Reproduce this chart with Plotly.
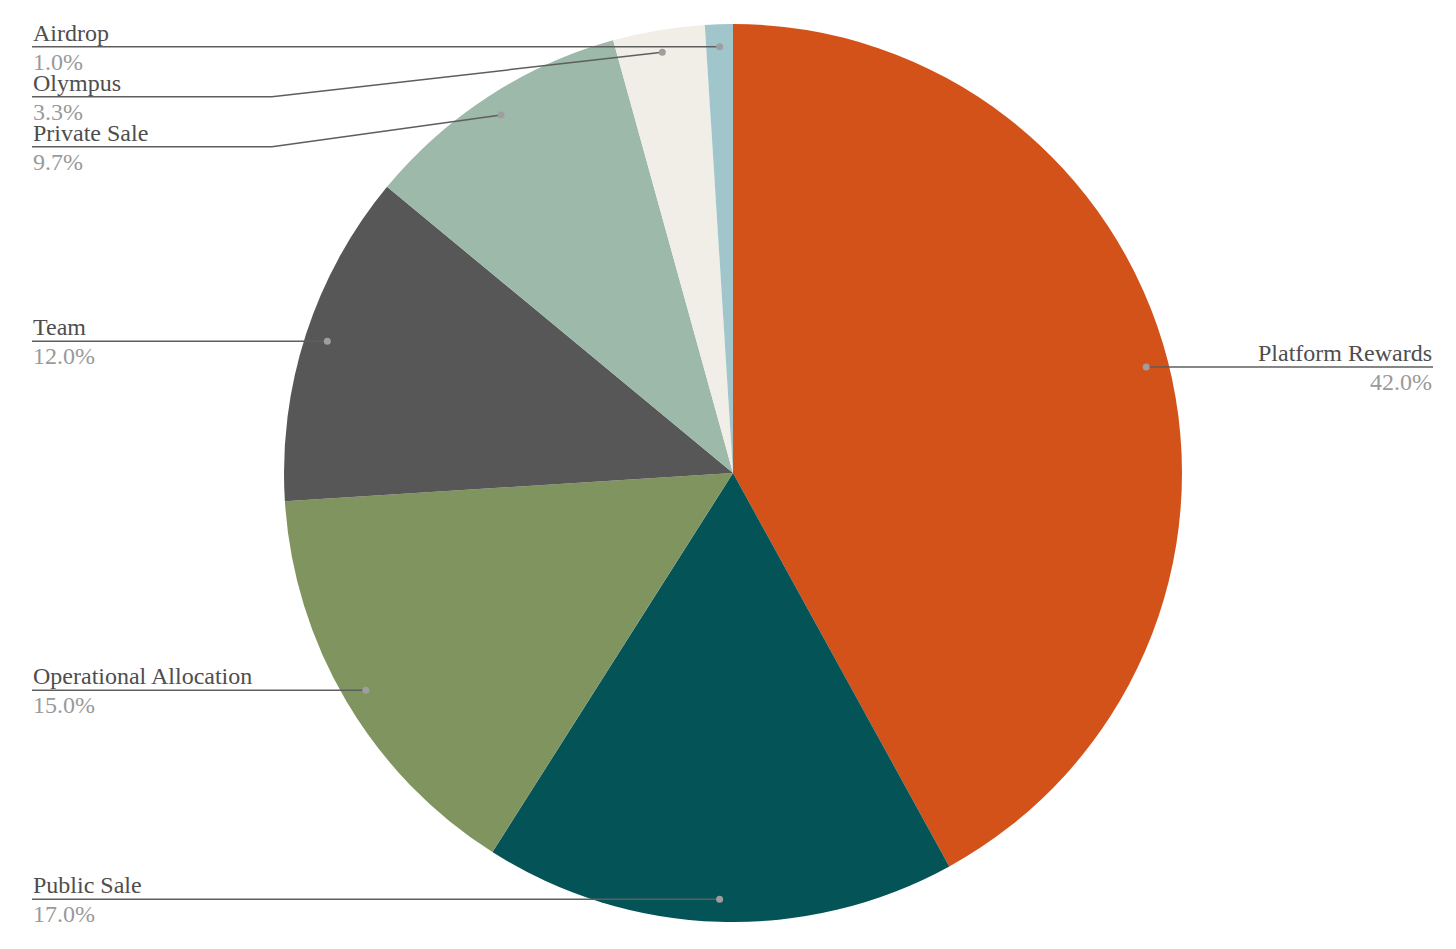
import math
import plotly.graph_objects as go

labels = ["Platform Rewards", "Public Sale", "Operational Allocation", "Team",
          "Private Sale", "Olympus", "Airdrop"]
values = [42.0, 17.0, 15.0, 12.0, 9.7, 3.3, 1.0]
colors = ["#D35219", "#045356", "#80945F", "#575757", "#9CB9A9", "#F1EDE7", "#A0C6CB"]

W, H = 1456, 949
OFF = 8  # page body margin
CX, CY, R = 733 - OFF, 473 - OFF, 449
FONT = "Liberation Serif, Georgia, serif"
FS = 24
LEFT_X, RIGHT_X = 32 - OFF, 1433 - OFF
KNEE_L, KNEE_R = 272 - OFF, 1190 - OFF
SPACING = 50

fig = go.Figure(go.Pie(
    labels=labels, values=values, sort=False, direction="clockwise", rotation=0,
    marker=dict(colors=colors, line=dict(width=0)),
    textinfo="none", hoverinfo="label+percent", showlegend=False,
    domain=dict(x=[(CX - R) / W, (CX + R) / W], y=[1 - (CY + R) / H, 1 - (CY - R) / H]),
))

total = sum(values)
items = []
cum = 0.0
for lab, v in zip(labels, values):
    mid = (cum + v / 2) / total * 2 * math.pi
    cum += v
    dx = 0.95 * R * math.sin(mid)
    dy = -0.95 * R * math.cos(mid)
    items.append(dict(label=lab, pct=v / total * 100, x=CX + dx, y=CY + dy,
                      side="left" if dx < 0 else "right"))

shapes, annots = [], []
def px(x):
    return x / W
def py(y):
    return 1 - y / H

for side in ["left", "right"]:
    grp = sorted([it for it in items if it["side"] == side], key=lambda d: d["y"])
    prev = -1e9
    for it in grp:
        ly = max(it["y"], prev + SPACING)
        prev = ly
        if side == "left":
            x0, knee, anchor = LEFT_X, KNEE_L, "left"
        else:
            x0, knee, anchor = RIGHT_X, KNEE_R, "right"
        if abs(ly - it["y"]) < 3:
            pts = [(x0, ly), (it["x"], it["y"])]
        else:
            pts = [(x0, ly), (knee, ly), (it["x"], it["y"])]
        for (a, b), (c, d) in zip(pts[:-1], pts[1:]):
            shapes.append(dict(type="line", xref="paper", yref="paper",
                               x0=px(a), y0=py(b), x1=px(c), y1=py(d),
                               line=dict(color="#5E5E5E", width=1.5)))
        shapes.append(dict(type="circle", xref="paper", yref="paper",
                           x0=px(it["x"] - 3.5), x1=px(it["x"] + 3.5),
                           y0=py(it["y"] - 3.5), y1=py(it["y"] + 3.5),
                           fillcolor="#9E9E9E", line=dict(width=0)))
        annots.append(dict(x=px(x0), y=py(ly), xref="paper", yref="paper",
                           text=it["label"], showarrow=False, xanchor=anchor,
                           yanchor="bottom", borderpad=0,
                           font=dict(family=FONT, size=FS, color="#4E4E4E")))
        annots.append(dict(x=px(x0), y=py(ly + 1), xref="paper", yref="paper",
                           text=f"{it['pct']:.1f}%", showarrow=False, xanchor=anchor,
                           yanchor="top", borderpad=0,
                           font=dict(family=FONT, size=FS, color="#9A9A9A")))

fig.update_layout(width=W, height=H, margin=dict(l=0, r=0, t=0, b=0),
                  paper_bgcolor="white", plot_bgcolor="white",
                  shapes=shapes, annotations=annots)
fig.write_html("out.html")
